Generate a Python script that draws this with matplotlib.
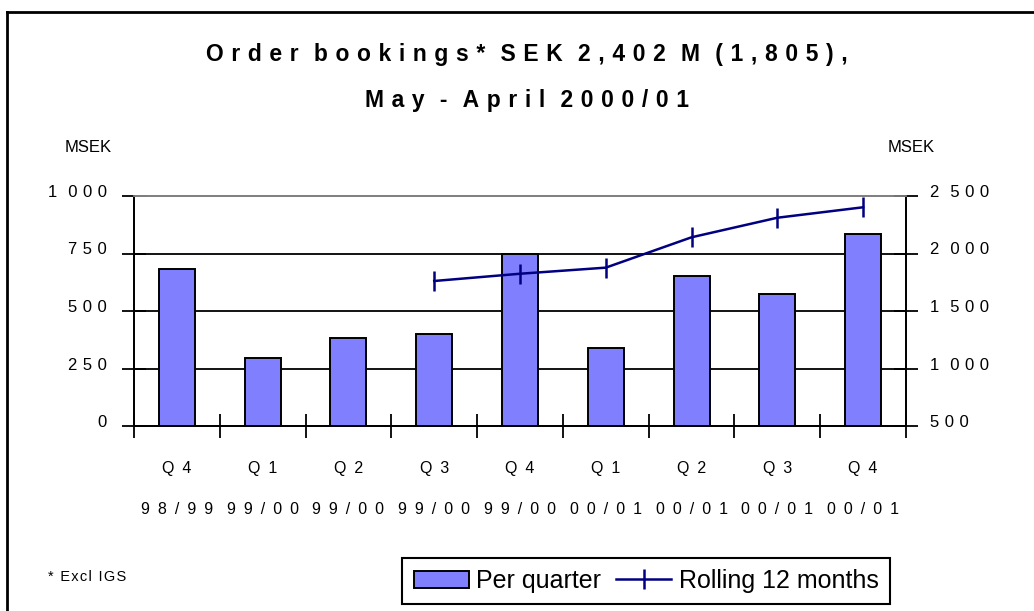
import numpy as np
import matplotlib
matplotlib.use("Agg")
import matplotlib.pyplot as plt
from matplotlib.lines import Line2D
from matplotlib.transforms import ScaledTranslation

plt.rcParams["font.family"] = ["Liberation Sans", "DejaVu Sans"]

# data
quarters = ["Q4", "Q1", "Q2", "Q3", "Q4", "Q1", "Q2", "Q3", "Q4"]
years = ["98/99", "99/00", "99/00", "99/00", "99/00", "00/01", "00/01", "00/01", "00/01"]
per_quarter = [681, 297, 384, 401, 748, 340, 653, 575, 836]
rolling_idx = [3, 4, 5, 6, 7, 8]
rolling_12m = [1761, 1824, 1877, 2141, 2311, 2402]

left_ticks = [0, 250, 500, 750, 1000]
left_labels = ["0", "250", "500", "750", "1 000"]
right_ticks = [500, 1000, 1500, 2000, 2500]
right_labels = ["500", "1 000", "1 500", "2 000", "2 500"]

BAR_COLOR = "#8080FF"
LINE_COLOR = "#000080"

EN = "\u2002"
THIRD = "\u2004"


def spaced(s, gap=EN):
    """fake letter spacing (old Excel look); a real space becomes a double gap"""
    return (gap * 2).join(gap.join(part) for part in s.split(" "))


W, H = 1034, 611
fig = plt.figure(figsize=(W / 100, H / 100), dpi=100)

# axes box in pixels: x 134..906, y 196..426
ax = fig.add_axes([134 / W, 1 - 426 / H, (906 - 134) / W, (426 - 196) / H])
ax2 = ax.twinx()

x = np.arange(len(per_quarter))
for v in left_ticks[1:-1]:
    ax.axhline(v, color="black", lw=1.3, zorder=0.5)
ax.bar(x, per_quarter, width=0.42, color=BAR_COLOR, edgecolor="black", lw=1.4, zorder=2,
       label="Per quarter")
ax2.plot(rolling_idx, rolling_12m, color=LINE_COLOR, lw=1.8, marker="|", markersize=14,
         markeredgewidth=1.8, zorder=3, label="Rolling 12 months")

ax.set_xlim(-0.5, len(per_quarter) - 0.5)
ax.set_ylim(0, 1000)
ax2.set_ylim(500, 2500)

for a in (ax, ax2):
    a.spines["top"].set_color("#808080")
    a.spines["top"].set_linewidth(1.3)
    for s in ("left", "right", "bottom"):
        a.spines[s].set_linewidth(1.3)
        a.spines[s].set_color("black")

# x axis: boundary ticks, labels at centres
ax.set_xticks(np.arange(-0.5, len(per_quarter), 1))
ax.set_xticklabels([])
ax.tick_params(axis="x", which="major", direction="inout", length=17, width=1.3)
ax.set_xticks(x, minor=True)
ax.set_xticklabels([spaced(q) + "\n" + spaced(y) for q, y in zip(quarters, years)],
                   minor=True, fontsize=11.5, linespacing=3.2)
ax.tick_params(axis="x", which="minor", length=0, pad=25)

ax.set_yticks(left_ticks)
ax.set_yticklabels([spaced(t, THIRD) for t in left_labels], fontsize=12)
ax.tick_params(axis="y", direction="inout", length=17, width=1.3, pad=11)
ax2.set_yticks(right_ticks)
ax2.set_yticklabels([spaced(t, THIRD) for t in right_labels], fontsize=12)
ax2.tick_params(axis="y", direction="inout", length=17, width=1.3, pad=9)

up = ScaledTranslation(0, 5 / 100, fig.dpi_scale_trans)
for lab in ax.get_yticklabels() + ax2.get_yticklabels():
    lab.set_transform(lab.get_transform() + up)

# titles and side texts
fig.text(527 / W, 1 - 54 / H, spaced("Order bookings* SEK 2,402 M (1,805),", THIRD),
         ha="center", va="center", fontsize=16.5, fontweight="bold")
fig.text(527 / W, 1 - 100 / H, spaced("May - April 2000/01", THIRD),
         ha="center", va="center", fontsize=16.5, fontweight="bold")
fig.text(65 / W, 1 - 148 / H, "MSEK", ha="left", va="center", fontsize=12)
fig.text(888 / W, 1 - 148 / H, "MSEK", ha="left", va="center", fontsize=12)
fig.text(48 / W, 1 - 577 / H, "\u200a".join("* Excl IGS"), ha="left", va="center",
         fontsize=10.5)

h1, l1 = ax.get_legend_handles_labels()
h2, l2 = ax2.get_legend_handles_labels()
leg = fig.legend(h1 + h2, l1 + l2, loc="center", bbox_to_anchor=(646 / W, 1 - 581 / H),
                 ncol=2, fontsize=18, frameon=True, fancybox=False, framealpha=1,
                 edgecolor="black", handlelength=2.2, handletextpad=0.3,
                 columnspacing=0.6, borderpad=0.45)
leg.get_frame().set_linewidth(1.5)

# outer frame (only left/top edges visible in the source)
fig.add_artist(Line2D([7 / W, 7 / W], [0, 1 - 12 / H], color="black", lw=2))
fig.add_artist(Line2D([7 / W, 1], [1 - 12 / H, 1 - 12 / H], color="black", lw=2))

fig.savefig("out.png", dpi=100)
